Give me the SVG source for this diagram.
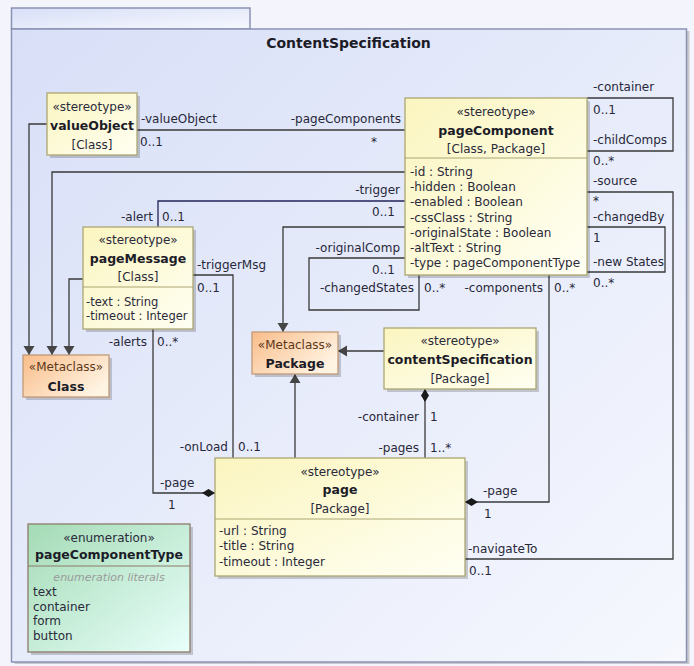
<svg xmlns="http://www.w3.org/2000/svg" width="694" height="666" viewBox="0 0 694 666">
<defs>
<linearGradient id="gFrame" x1="0" y1="0" x2="1" y2="1"><stop offset="0" stop-color="#d8dff7"/><stop offset="1" stop-color="#f6f8fe"/></linearGradient>
<linearGradient id="gYellow" x1="0" y1="0" x2="1" y2="1"><stop offset="0" stop-color="#fbf5bf"/><stop offset="1" stop-color="#fffff3"/></linearGradient>
<linearGradient id="gOrange" x1="0" y1="0" x2="1" y2="0.6"><stop offset="0" stop-color="#f9bd8a"/><stop offset="1" stop-color="#fff3e2"/></linearGradient>
<linearGradient id="gGreen" x1="0" y1="0" x2="1" y2="1"><stop offset="0" stop-color="#a4dbb5"/><stop offset="1" stop-color="#e9fffb"/></linearGradient>
<marker id="arrow" markerUnits="userSpaceOnUse" markerWidth="12" markerHeight="14" viewBox="0 -7 12 14" refX="9" refY="0" orient="auto"><path d="M0,-5.5 L9,0 L0,5.5 Z" fill="#454545"/></marker>
<marker id="diamond" markerUnits="userSpaceOnUse" markerWidth="14" markerHeight="10" viewBox="0 -5 14 10" refX="13" refY="0" orient="auto-start-reverse"><path d="M0,0 L6.5,-4 L13,0 L6.5,4 Z" fill="#1a1a1a"/></marker>
</defs>
<style>
.frame{fill:url(#gFrame);stroke:#8a92b4;stroke-width:1.5}
.shadow{fill:#000;opacity:0.18}
.ybox{fill:url(#gYellow);stroke:#aca672;stroke-width:1.3}
.obox{fill:url(#gOrange);stroke:#c19a78;stroke-width:1.3}
.gbox{fill:url(#gGreen);stroke:#8c7b69;stroke-width:1.3}
.div{stroke:#aca672;stroke-width:1.2}
.gdiv{stroke:#8c7b69;stroke-width:1.2}
.ln{fill:none;stroke:#3a3a3a;stroke-width:1.3}
.nv{stroke:#23235a}
text{font-family:"DejaVu Sans","Liberation Sans",sans-serif;font-size:12px;fill:#2a2a3a}
.st{text-anchor:middle}
.nm{text-anchor:middle;font-weight:bold;font-size:12.5px;fill:#1c1c28}
.mc{text-anchor:middle;fill:#5e3818}
.lb{font-size:12px;fill:#28283a}
.sm{font-size:11.5px}
.r{text-anchor:end}
.m{text-anchor:middle}
.lit{text-anchor:middle;font-style:italic;font-size:11px;fill:#9a9a9a}
.title{text-anchor:middle;font-weight:bold;font-size:14px;fill:#1c1c28}
</style>
<rect width="694" height="666" fill="#f4f5fc"/>
<g id="frame">
<rect x="14.5" y="31" width="675" height="633" class="shadow" opacity="0.1"/>
<rect x="11.5" y="8" width="238.5" height="21" class="frame"/>
<rect x="11.5" y="29" width="675" height="633" class="frame"/>
<text x="348.5" y="48" class="title">ContentSpecification</text>
</g>
<g id="connectors">
<path class="ln" d="M137,130 H405"/>
<path class="ln" d="M47,124 H29 V355" marker-end="url(#arrow)"/>
<path class="ln" d="M405,172 H52 V355" marker-end="url(#arrow)"/>
<path class="ln" d="M83,279 H69 V355" marker-end="url(#arrow)"/>
<path class="ln nv" d="M158,227 V201 H405"/>
<path class="ln" d="M193,275 H233 V458"/>
<path class="ln" d="M153,329 V493 H215" marker-end="url(#diamond)"/>
<path class="ln" d="M405,227 H283 V332" marker-end="url(#arrow)"/>
<path class="ln" d="M405,258 H309 V310 H419 V275"/>
<path class="ln" d="M549,275 V502 H465" marker-end="url(#diamond)"/>
<path class="ln" d="M587,98 H673 V151 H587"/>
<path class="ln" d="M587,192 H673 V559 H465"/>
<path class="ln" d="M587,227 H665 V272 H587"/>
<path class="ln" d="M384,351 H338" marker-end="url(#arrow)"/>
<path class="ln" d="M295,458 V374" marker-end="url(#arrow)"/>
<path class="ln" d="M425,389 V458" marker-start="url(#diamond)"/>
</g>
<g id="connector-labels">
<text x="141" y="123" class="lb">-valueObject</text>
<text x="140" y="146" class="lb">0..1</text>
<text x="401" y="123" class="lb r">-pageComponents</text>
<text x="374" y="146" class="lb m">*</text>
<text x="593" y="91" class="lb">-container</text>
<text x="593" y="114" class="lb">0..1</text>
<text x="593" y="144" class="lb">-childComps</text>
<text x="593" y="165" class="lb">0..*</text>
<text x="593" y="185" class="lb">-source</text>
<text x="593" y="205" class="lb">*</text>
<text x="593" y="221" class="lb">-changedBy</text>
<text x="593" y="242" class="lb">1</text>
<text x="593" y="266" class="lb">-new States</text>
<text x="593" y="287" class="lb">0..*</text>
<text x="400" y="194" class="lb r">-trigger</text>
<text x="372" y="216" class="lb">0..1</text>
<text x="153" y="221" class="lb r">-alert</text>
<text x="162" y="221" class="lb">0..1</text>
<text x="197" y="269" class="lb">-triggerMsg</text>
<text x="197" y="292" class="lb">0..1</text>
<text x="400" y="252" class="lb r">-originalComp</text>
<text x="372" y="274" class="lb">0..1</text>
<text x="414" y="292" class="lb r">-changedStates</text>
<text x="424" y="292" class="lb">0..*</text>
<text x="543" y="292" class="lb r">-components</text>
<text x="554" y="292" class="lb">0..*</text>
<text x="147" y="346" class="lb r">-alerts</text>
<text x="157" y="346" class="lb">0..*</text>
<text x="228" y="451" class="lb r">-onLoad</text>
<text x="238" y="451" class="lb">0..1</text>
<text x="419" y="421" class="lb r">-container</text>
<text x="430" y="421" class="lb">1</text>
<text x="419" y="452" class="lb r">-pages</text>
<text x="430" y="452" class="lb">1..*</text>
<text x="160" y="487" class="lb">-page</text>
<text x="168" y="509" class="lb">1</text>
<text x="483" y="495" class="lb">-page</text>
<text x="484" y="518" class="lb">1</text>
<text x="468" y="553" class="lb">-navigateTo</text>
<text x="469" y="575" class="lb">0..1</text>
</g>
<g id="valueObject">
<rect x="50" y="96" width="90" height="62" class="shadow"/>
<rect x="47" y="93" width="90" height="62" class="ybox"/>
<text x="92" y="111" class="st">«stereotype»</text>
<text x="92" y="129.5" class="nm">valueObject</text>
<text x="92" y="149" class="st">[Class]</text>
</g>
<g id="pageComponent">
<rect x="408" y="101" width="182" height="177" class="shadow"/>
<rect x="405" y="98" width="182" height="177" class="ybox"/>
<line x1="405" y1="158" x2="587" y2="158" class="div"/>
<text x="496" y="116" class="st">«stereotype»</text>
<text x="496" y="134.5" class="nm">pageComponent</text>
<text x="496" y="153" class="st">[Class, Package]</text>
<text x="410" y="176">-id : String</text>
<text x="410" y="191.2">-hidden : Boolean</text>
<text x="410" y="206.4">-enabled : Boolean</text>
<text x="410" y="221.6">-cssClass : String</text>
<text x="410" y="236.8">-originalState : Boolean</text>
<text x="410" y="252">-altText : String</text>
<text x="410" y="267.2">-type : pageComponentType</text>
</g>
<g id="pageMessage">
<rect x="86" y="230" width="110" height="102" class="shadow"/>
<rect x="83" y="227" width="110" height="102" class="ybox"/>
<line x1="83" y1="287" x2="193" y2="287" class="div"/>
<text x="138" y="244" class="st">«stereotype»</text>
<text x="138" y="263" class="nm">pageMessage</text>
<text x="138" y="281" class="st">[Class]</text>
<text x="86" y="306" class="sm">-text : String</text>
<text x="86" y="319.5" class="sm">-timeout : Integer</text>
</g>
<g id="Class">
<rect x="26" y="358" width="86" height="42" class="shadow"/>
<rect x="23" y="355" width="86" height="42" class="obox"/>
<text x="66" y="371" class="mc">«Metaclass»</text>
<text x="66" y="391" class="nm">Class</text>
</g>
<g id="Package">
<rect x="255" y="335" width="86" height="42" class="shadow"/>
<rect x="252" y="332" width="86" height="42" class="obox"/>
<text x="295" y="349" class="mc">«Metaclass»</text>
<text x="295" y="368" class="nm">Package</text>
</g>
<g id="contentSpecification">
<rect x="387" y="331" width="152" height="61" class="shadow"/>
<rect x="384" y="328" width="152" height="61" class="ybox"/>
<text x="460" y="345" class="st">«stereotype»</text>
<text x="460" y="364" class="nm">contentSpecification</text>
<text x="460" y="383" class="st">[Package]</text>
</g>
<g id="page">
<rect x="218" y="461" width="250" height="118" class="shadow"/>
<rect x="215" y="458" width="250" height="118" class="ybox"/>
<line x1="215" y1="519" x2="465" y2="519" class="div"/>
<text x="340" y="476" class="st">«stereotype»</text>
<text x="340" y="494" class="nm">page</text>
<text x="340" y="513" class="st">[Package]</text>
<text x="219" y="535">-url : String</text>
<text x="219" y="550">-title : String</text>
<text x="219" y="566">-timeout : Integer</text>
</g>
<g id="pageComponentType">
<rect x="31" y="527" width="162" height="128" class="shadow"/>
<rect x="28" y="524" width="162" height="128" class="gbox"/>
<line x1="28" y1="566" x2="190" y2="566" class="gdiv"/>
<text x="109" y="542" class="st">«enumeration»</text>
<text x="109" y="559" class="nm">pageComponentType</text>
<text x="109" y="581" class="lit">enumeration literals</text>
<text x="33" y="596">text</text>
<text x="33" y="610.5">container</text>
<text x="33" y="625">form</text>
<text x="33" y="640">button</text>
</g>
</svg>
